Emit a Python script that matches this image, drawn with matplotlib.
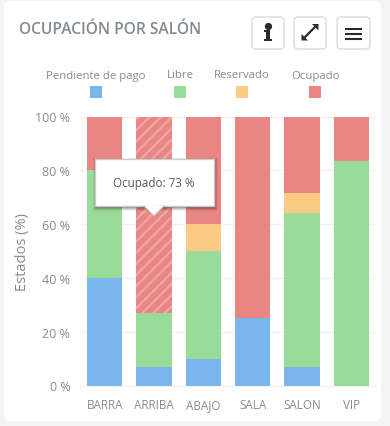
import matplotlib
matplotlib.use('Agg')
import matplotlib.pyplot as plt
from matplotlib.patches import FancyBboxPatch, Polygon, Rectangle

plt.rcParams['font.family'] = ['Open Sans', 'DejaVu Sans']
plt.rcParams['hatch.linewidth'] = 1.7

salones = ['BARRA', 'ARRIBA', 'ABAJO', 'SALA', 'SALON', 'VIP']
pendiente = [40, 6.7, 10, 25, 7, 0]
libre = [40, 20.3, 40, 0, 57, 83.5]
reservado = [0, 0, 10, 0, 7.5, 0]
ocupado = [20, 73, 40, 75, 28.5, 16.5]
series_names = ['Pendiente de pago', 'Libre', 'Reservado', 'Ocupado']
y_ticks = [0, 20, 40, 60, 80, 100]

BLUE = '#7ab6ec'
GREEN = '#99db98'
ORANGE = '#fbcb85'
RED = '#e98583'
GREY = '#8a8a8a'
W, H = 390, 427

fig = plt.figure(figsize=(W / 100, H / 100), dpi=100, facecolor='#f3f3f3')

# capa de fondo en pixeles (tarjeta, titulo, botones)
bg = fig.add_axes([0, 0, 1, 1], zorder=0)
bg.set_xlim(0, W)
bg.set_ylim(H, 0)
bg.axis('off')
bg.add_patch(FancyBboxPatch((4, 2), 377, 420, boxstyle='round,pad=0,rounding_size=6',
                            fc='white', ec='none'))
bg.text(19, 29.5, 'OCUPACIÓN POR SALÓN', fontsize=11.2, fontweight='semibold',
        color='#7f8a93', va='center', ha='left')

for x0, x1 in [(252, 284), (294, 326), (337, 370)]:
    bg.add_patch(FancyBboxPatch((x0, 18), x1 - x0, 32, boxstyle='round,pad=0,rounding_size=4',
                                fc='white', ec='#dcdcdc', lw=1))
# boton info
bg.add_patch(Rectangle((265.5, 31), 4.5, 10, fc='#2b2b2b', ec='none'))
bg.add_patch(Rectangle((264, 40), 7.5, 2, fc='#2b2b2b', ec='none'))
bg.add_patch(Rectangle((264, 31), 4, 2, fc='#2b2b2b', ec='none'))
bg.plot([267.7], [27], 'o', ms=4.2, color='#2b2b2b')
# boton expandir
bg.plot([305, 315], [38, 28], color='#2b2b2b', lw=1.6)
bg.add_patch(Polygon([[301.5, 41.5], [301.5, 35], [308, 41.5]], fc='#2b2b2b', ec='none'))
bg.add_patch(Polygon([[318.5, 25], [312, 25], [318.5, 31.5]], fc='#2b2b2b', ec='none'))
# boton menu
for yy in [29.5, 34.5, 40]:
    bg.plot([345, 362], [yy, yy], color='#2b2b2b', lw=1.5, solid_capstyle='butt')

# leyenda
legend_text_x = [96, 180, 242, 315]
legend_box_x = [96, 180, 242, 315]
legend_colors = [BLUE, GREEN, ORANGE, RED]
for name, tx, bx, c in zip(series_names, legend_text_x, legend_box_x, legend_colors):
    bg.text(tx, 76, name, fontsize=8.2, color=GREY, ha='center', va='center')
    bg.add_patch(Rectangle((bx - 6, 87), 12, 12, fc=c, ec='none'))

# grafico
left, right, top, bottom = 80, 376, 117.5, 386.5
ax = fig.add_axes([left / W, 1 - bottom / H, (right - left) / W, (bottom - top) / H], zorder=1)
ax.patch.set_alpha(0)
xs = list(range(len(salones)))
width = 0.71
base = [0] * len(salones)
for vals, c in zip([pendiente, libre, reservado, ocupado], legend_colors):
    bars = ax.bar(xs, vals, width=width, bottom=base, color=c, linewidth=0, zorder=2)
    base = [b + v for b, v in zip(base, vals)]
# barra ARRIBA resaltada con rayas
bars[1].set_hatch('///')
bars[1].set_edgecolor('#f0a6a3')
bars[1].set_facecolor(RED)
bars[1].set_linewidth(0)

ax.set_xlim(-0.5, 5.5)
ax.set_ylim(0, 100)
ax.set_yticks(y_ticks)
ax.set_yticklabels([f'{v} %' for v in y_ticks], fontsize=9, color=GREY)
ax.set_xticks(xs)
ax.set_xticklabels(salones, fontsize=8.4, color=GREY)
ax.tick_params(axis='both', length=0)
ax.tick_params(axis='y', pad=7)
ax.tick_params(axis='x', pad=9)
ax.grid(axis='y', color='#f0f0f0', lw=1, zorder=0)
ax.set_axisbelow(True)
for s in ax.spines.values():
    s.set_visible(False)
ax.spines['bottom'].set_visible(True)
ax.spines['bottom'].set_color('#f0f0f0')
ax.set_ylabel('Estados (%)', fontsize=10.5, color=GREY, labelpad=4)

# tooltip
fg = fig.add_axes([0, 0, 1, 1], zorder=2)
fg.set_xlim(0, W)
fg.set_ylim(H, 0)
fg.axis('off')
for off, a in [(4, 0.06), (3, 0.09), (2, 0.13), (1, 0.18)]:
    fg.add_patch(Rectangle((95 - off + 2, 160 - off + 3), 119 + 2 * off - 2, 47 + 2 * off - 2,
                           fc='black', ec='none', alpha=a))
fg.add_patch(Rectangle((95, 160), 119, 47, fc='white', ec='#cccccc', lw=1))
fg.add_patch(Polygon([[144, 207], [154, 217], [164, 207]], fc='white', ec='none', zorder=3))
fg.plot([144, 154, 164], [207, 217, 207], color='#bbbbbb', lw=0.8, zorder=3)
fg.text(154, 184, 'Ocupado: 73 %', fontsize=8.4, color='#555555', ha='center', va='center', zorder=4)

fig.savefig('out.png', dpi=100, facecolor=fig.get_facecolor())
